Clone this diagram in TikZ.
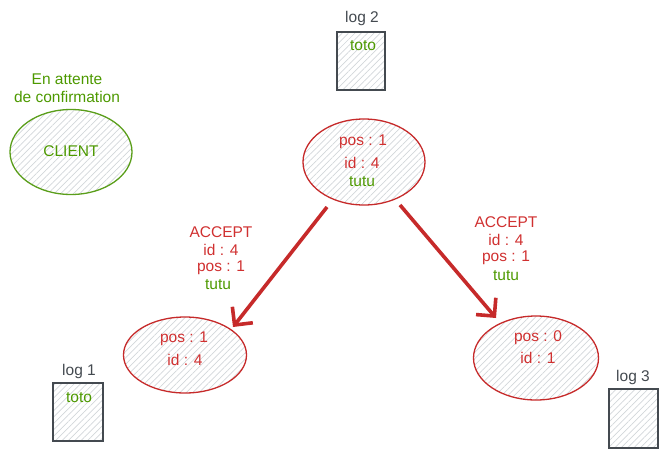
\documentclass[tikz,border=0pt]{standalone}
\usepackage{fontspec}
\setmainfont{Liberation Sans}
\usetikzlibrary{arrows.meta,patterns.meta,shapes.geometric}
\definecolor{rd}{HTML}{C62A2A}
\definecolor{rdtxt}{HTML}{D03030}
\definecolor{gr}{HTML}{5A9E1A}
\definecolor{grtxt}{HTML}{4D9900}
\definecolor{dk}{HTML}{444A50}
\definecolor{hatch}{HTML}{D2D6DA}
\tikzset{
  x=1pt, y=-1pt,
  every node/.style={font=\fontsize{15.5}{18}\selectfont, inner sep=0pt, align=center},
  hfill/.style={pattern={Lines[angle=45,distance=4.5pt,line width=0.7pt]}, pattern color=hatch},
  stateell/.style={ellipse, draw=rd, line width=1.3pt, hfill},
  clientell/.style={ellipse, draw=gr, line width=1.3pt, hfill},
  logbox/.style={draw=dk, line width=1.4pt, hfill},
  redt/.style={text=rdtxt},
  greent/.style={text=grtxt},
  grayt/.style={text=dk},
  msg/.style={draw=rd, line width=3.6pt, -{Straight Barb[length=13pt,width=26pt,line width=3.6pt]}}
}
\begin{document}
\begin{tikzpicture}
\useasboundingbox (0,0) rectangle (668,458);
% CLIENT
\node[clientell, minimum width=122pt, minimum height=85pt] (client) at (71,152) {};
\node[greent] (clientlbl) at (71,151) {CLIENT};
\node[greent] (wait) at (67,88) {En attente\\de confirmation};
% log 2
\draw[logbox] (337,32) rectangle (385,90);
\coordinate (log2) at (361,32);
\node[grayt] (log2lbl) at (362,18) {log 2};
\node[greent] (log2t) at (363,46) {toto};
% top ellipse
\node[stateell, minimum width=122pt, minimum height=86pt] (top) at (364,162) {};
\node[redt] (topa) at (363,142) {pos : 1};
\node[redt] (topb) at (362,163) {id : 4};
\node[greent] (topc) at (362,182) {tutu};
% left ellipse
\node[stateell, minimum width=123pt, minimum height=76pt] (left) at (185,355) {};
\node[redt] (lefta) at (184,339) {pos : 1};
\node[redt] (leftb) at (185,360) {id : 4};
% right ellipse
\node[stateell, minimum width=125pt, minimum height=84pt] (right) at (536,358) {};
\node[redt] (righta) at (538,338) {pos : 0};
\node[redt] (rightb) at (538,358) {id : 1};
% log 1
\draw[logbox] (53,383) rectangle (103,441);
\node[grayt] (log1lbl) at (79,371) {log 1};
\node[greent] (log1t) at (79,398) {toto};
% log 3
\draw[logbox] (609,389) rectangle (658,448);
\node[grayt] (log3lbl) at (633,377) {log 3};
% arrows
\coordinate (s1) at (327,207);
\coordinate (e1) at (233,327);
\coordinate (s2) at (400,205);
\coordinate (e2) at (496,318);
\draw[msg] (s1) -- (e1);
\draw[msg] (s2) -- (e2);
% labels
\node[redt] (l1a) at (221,232) {ACCEPT};
\node[redt] (l1b) at (221,250) {id : 4};
\node[redt] (l1c) at (221,268) {pos : 1};
\node[greent] (l1d) at (218,285) {tutu};
\node[redt] (l2a) at (506,222) {ACCEPT};
\node[redt] (l2b) at (506,240) {id : 4};
\node[redt] (l2c) at (506,258) {pos : 1};
\node[greent] (l2d) at (506,276) {tutu};
\end{tikzpicture}
\end{document}
